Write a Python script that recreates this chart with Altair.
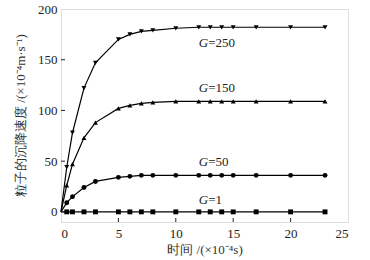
import altair as alt
import pandas as pd

times = [0, 0.5, 1, 2, 3, 5, 6, 7, 8, 10, 12, 13, 14, 15, 17, 20, 23]
g1 = [0, 0, 0, 0, 0, 0, 0, 0, 0, 0, 0, 0, 0, 0, 0, 0, 0]
g50 = [0, 9, 15, 24, 30, 34, 35, 36, 36, 36, 36, 36, 36, 36, 36, 36, 36]
g150 = [0, 26, 47, 73, 88, 102, 105, 107, 108, 109, 109, 109, 109, 109, 109, 109, 109]
g250 = [0, 44, 78, 122, 147, 170, 175, 178, 179, 181, 182, 182, 182, 182, 182, 182, 182]

series_names = ["G=1", "G=50", "G=150", "G=250"]
series_vals = [g1, g50, g150, g250]
shapes = ["square", "circle", "triangle-up", "triangle-down"]

label_nums = ["=1", "=50", "=150", "=250"]
label_x = [12, 12, 12, 12]
label_y = [12, 49, 122, 166]

x_ticks = [0, 5, 10, 15, 20, 25]
y_ticks = [0, 50, 100, 150, 200]

rows = []
for name, vals in zip(series_names, series_vals):
    for t, v in zip(times, vals):
        rows.append({"t": t, "v": v, "s": name})
df = pd.DataFrame(rows)
labels = pd.DataFrame({"x": label_x, "y": label_y, "num": label_nums, "g": ["G"] * 4})

FONT = "Liberation Serif"

xs = alt.Scale(domain=[0, 25], nice=False, zero=False)
ys = alt.Scale(domain=[-10, 200], nice=False, zero=False)

xaxis = alt.Axis(values=x_ticks, ticks=False, domain=False, grid=False, labelPadding=5,
                 labelFontSize=13, labelFont=FONT, labelColor="#222",
                 title="时间 /(×10⁻⁴s)", titleFont=FONT, titleFontSize=13,
                 titleFontWeight="normal", titleY=27, titleBaseline="middle", titleColor="#333")
yaxis = alt.Axis(values=y_ticks, ticks=False, domain=False, grid=False, labelPadding=4,
                 labelFontSize=13, labelFont=FONT, labelColor="#222",
                 title="粒子的沉降速度 /(×10⁻⁴m·s⁻¹)", titleFont=FONT, titleFontSize=13,
                 titleFontWeight="normal", titleX=-41, titleY=106, titleAlign="center",
                 titleBaseline="middle", titleColor="#333")

base = alt.Chart(df)
lines = base.mark_line(color="black", strokeWidth=1.2).encode(
    x=alt.X("t:Q", scale=xs, axis=xaxis),
    y=alt.Y("v:Q", scale=ys, axis=yaxis),
    detail="s:N",
)
points = base.transform_filter("datum.t > 0").mark_point(filled=True, color="black", opacity=1, size=24).encode(
    x=alt.X("t:Q", scale=xs),
    y=alt.Y("v:Q", scale=ys),
    shape=alt.Shape("s:N", scale=alt.Scale(domain=series_names, range=shapes), legend=None),
)

gtext = alt.Chart(labels).mark_text(align="left", baseline="middle", fontStyle="italic",
                                    font=FONT, fontSize=13, color="#222").encode(
    x=alt.X("x:Q", scale=xs), y=alt.Y("y:Q", scale=ys), text="g:N")
ntext = alt.Chart(labels).mark_text(align="left", baseline="middle", dx=9.5,
                                    font=FONT, fontSize=13, color="#222").encode(
    x=alt.X("x:Q", scale=xs), y=alt.Y("y:Q", scale=ys), text="num:N")

xt = alt.Chart(pd.DataFrame({"x": x_ticks[1:-1]})).mark_rule(color="#222").encode(
    x=alt.X("x:Q", scale=xs), y=alt.value(213), y2=alt.value(209))
yt = alt.Chart(pd.DataFrame({"y": y_ticks[:-1]})).mark_rule(color="#222").encode(
    y=alt.Y("y:Q", scale=ys), x=alt.value(0), x2=alt.value(4))

chart = alt.layer(lines, points, gtext, ntext, xt, yt).properties(
    width=287, height=213,
    padding={"left": 61, "top": 9, "right": 22, "bottom": 38},
    autosize=alt.AutoSizeParams(type="none"),
).configure_view(stroke="#222", strokeWidth=1.2).configure(background="white")

chart.save("out.html", embed_options={"renderer": "svg", "actions": False})
